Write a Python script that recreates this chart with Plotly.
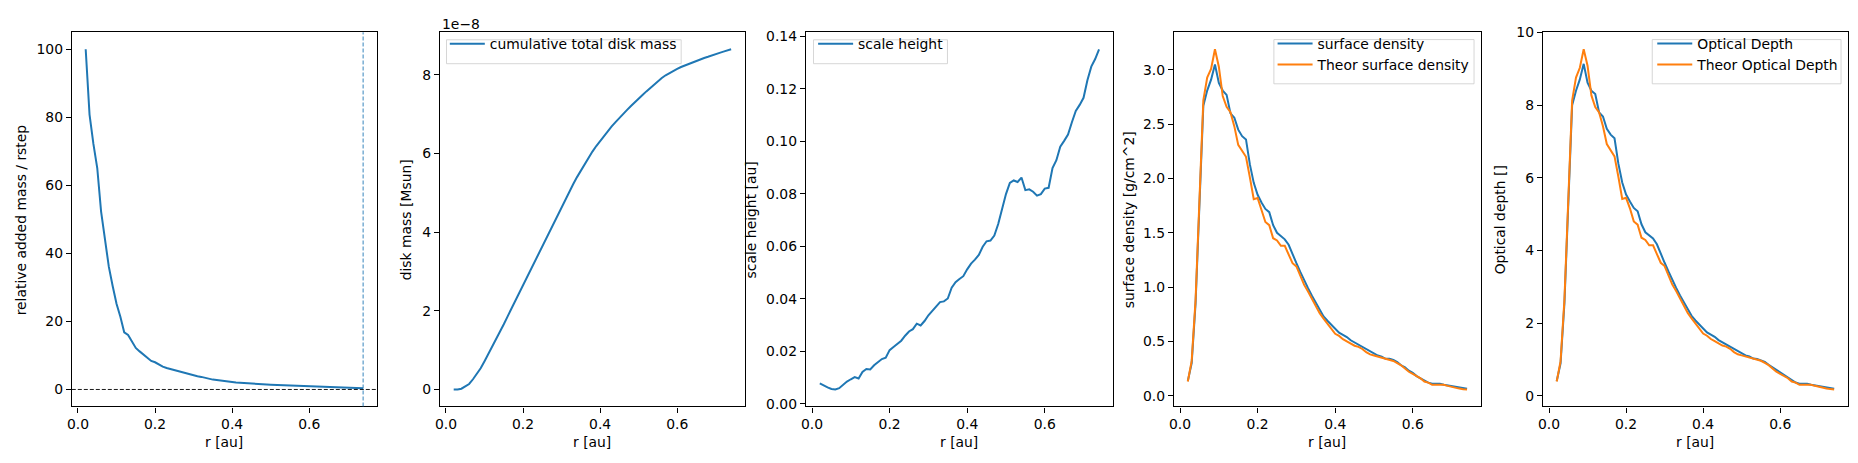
import plotly.graph_objects as go

W, H = 1858, 463

r_au = [0.02, 0.03, 0.04, 0.05, 0.06, 0.07, 0.08, 0.09, 0.10, 0.11, 0.12, 0.13, 0.14, 0.15, 0.16,
        0.17, 0.18, 0.19, 0.20, 0.21, 0.22, 0.23, 0.24, 0.25, 0.26, 0.27, 0.28, 0.29, 0.30, 0.31,
        0.32, 0.33, 0.34, 0.35, 0.36, 0.37, 0.38, 0.39, 0.40, 0.41, 0.42, 0.43, 0.44, 0.45, 0.46,
        0.47, 0.48, 0.49, 0.50, 0.51, 0.52, 0.53, 0.54, 0.55, 0.56, 0.57, 0.58, 0.59, 0.60, 0.61,
        0.62, 0.63, 0.64, 0.65, 0.66, 0.67, 0.68, 0.69, 0.70, 0.71, 0.72, 0.73, 0.74]

rel_added_mass = [100.0, 80.8, 72.2, 65.1, 52.3, 43.7, 36.1, 30.4, 25.2, 21.4, 16.8, 16.0, 14.2, 12.2, 11.2,
                  10.2, 9.2, 8.4, 8.0, 7.3, 6.7, 6.3, 6.0, 5.7, 5.3, 5.0, 4.6, 4.3, 4.1, 3.9,
                  3.7, 3.4, 3.1, 2.9, 2.8, 2.7, 2.5, 2.3, 2.2, 2.05, 1.95, 1.85, 1.75, 1.7, 1.6,
                  1.55, 1.5, 1.45, 1.4, 1.35, 1.3, 1.25, 1.2, 1.15, 1.1, 1.0, 0.95, 0.9, 0.85, 0.8,
                  0.75, 0.7, 0.65, 0.6, 0.58, 0.55, 0.52, 0.48, 0.45, 0.42, 0.4, 0.37, 0.35]

# cumulative total disk mass in units of 1e-8 Msun
disk_mass_1e8 = [0.0, 0.0, 0.02, 0.07, 0.14, 0.26, 0.39, 0.54, 0.72, 0.90, 1.08, 1.27, 1.46, 1.66, 1.86,
                 2.06, 2.26, 2.46, 2.66, 2.86, 3.06, 3.26, 3.46, 3.66, 3.86, 4.06, 4.26, 4.46, 4.66, 4.85,
                 5.04, 5.22, 5.40, 5.57, 5.74, 5.90, 6.05, 6.19, 6.32, 6.45, 6.57, 6.69, 6.80, 6.91, 7.01,
                 7.11, 7.21, 7.31, 7.40, 7.49, 7.58, 7.67, 7.76, 7.84, 7.92, 7.99, 8.05, 8.10, 8.15, 8.20,
                 8.24, 8.28, 8.32, 8.36, 8.40, 8.43, 8.46, 8.50, 8.53, 8.56, 8.59, 8.62, 8.65]

scale_height = [0.0077, 0.0068, 0.0062, 0.0056, 0.0054, 0.0059, 0.0072, 0.0084, 0.0093, 0.0101, 0.0096, 0.0121,
                0.0132, 0.0130, 0.0146, 0.0157, 0.0170, 0.0175, 0.0204, 0.0216, 0.0228, 0.0240, 0.0259, 0.0275,
                0.0284, 0.0305, 0.0298, 0.0315, 0.0337, 0.0354, 0.0372, 0.0387, 0.0390, 0.0401, 0.0442, 0.0463,
                0.0475, 0.0486, 0.0512, 0.0534, 0.0549, 0.0567, 0.0598, 0.0619, 0.0622, 0.0641, 0.0685, 0.0746,
                0.0799, 0.0842, 0.0851, 0.0845, 0.0862, 0.0814, 0.0817, 0.0808, 0.0793, 0.0799, 0.0820, 0.0823,
                0.0898, 0.0928, 0.0980, 0.1002, 0.1026, 0.1073, 0.1116, 0.1139, 0.1166, 0.1233, 0.1285, 0.1314,
                0.1351]

surface_density = [0.134, 0.30, 0.85, 1.75, 2.67, 2.81, 2.91, 3.05, 2.88, 2.81, 2.77, 2.60, 2.56, 2.45, 2.39,
                   2.36, 2.13, 1.96, 1.85, 1.78, 1.72, 1.69, 1.57, 1.50, 1.47, 1.44, 1.39, 1.30, 1.22, 1.14,
                   1.06, 0.99, 0.92, 0.86, 0.80, 0.73, 0.69, 0.65, 0.61, 0.58, 0.56, 0.54, 0.51, 0.49, 0.47,
                   0.45, 0.43, 0.41, 0.39, 0.37, 0.36, 0.34, 0.34, 0.33, 0.31, 0.28, 0.26, 0.23, 0.21, 0.18,
                   0.16, 0.14, 0.12, 0.11, 0.11, 0.11, 0.10, 0.095, 0.087, 0.081, 0.075, 0.069, 0.063]

theor_surface_density = [0.13, 0.32, 0.88, 1.80, 2.72, 2.93, 3.01, 3.19, 3.03, 2.76, 2.66, 2.61, 2.48, 2.31, 2.26,
                         2.20, 2.01, 1.81, 1.82, 1.72, 1.60, 1.57, 1.45, 1.43, 1.38, 1.38, 1.30, 1.22, 1.19, 1.10,
                         1.02, 0.96, 0.89, 0.83, 0.76, 0.71, 0.66, 0.61, 0.57, 0.55, 0.52, 0.50, 0.48, 0.46, 0.45,
                         0.43, 0.40, 0.38, 0.37, 0.36, 0.35, 0.34, 0.33, 0.32, 0.30, 0.28, 0.25, 0.22, 0.20, 0.18,
                         0.16, 0.13, 0.12, 0.10, 0.10, 0.10, 0.10, 0.09, 0.08, 0.07, 0.065, 0.06, 0.057]

optical_depth = [0.40, 0.89, 2.55, 5.25, 8.00, 8.40, 8.71, 9.14, 8.62, 8.40, 8.31, 7.80, 7.69, 7.35, 7.19,
                 7.09, 6.39, 5.87, 5.54, 5.35, 5.17, 5.08, 4.72, 4.50, 4.41, 4.33, 4.17, 3.90, 3.66, 3.42,
                 3.18, 2.97, 2.76, 2.58, 2.40, 2.20, 2.07, 1.95, 1.83, 1.74, 1.68, 1.62, 1.53, 1.47, 1.41,
                 1.35, 1.29, 1.23, 1.17, 1.11, 1.08, 1.02, 1.01, 0.98, 0.93, 0.85, 0.78, 0.70, 0.62, 0.55,
                 0.48, 0.42, 0.36, 0.33, 0.33, 0.33, 0.30, 0.28, 0.26, 0.24, 0.22, 0.21, 0.19]

theor_optical_depth = [0.39, 0.95, 2.64, 5.40, 8.13, 8.76, 9.03, 9.54, 9.09, 8.27, 7.95, 7.80, 7.42, 6.93, 6.77,
                       6.59, 6.03, 5.42, 5.45, 5.16, 4.80, 4.71, 4.35, 4.29, 4.14, 4.14, 3.90, 3.66, 3.57, 3.30,
                       3.06, 2.88, 2.67, 2.49, 2.28, 2.13, 1.98, 1.83, 1.71, 1.65, 1.56, 1.50, 1.44, 1.38, 1.35,
                       1.29, 1.20, 1.14, 1.11, 1.08, 1.05, 1.02, 0.99, 0.96, 0.90, 0.84, 0.75, 0.66, 0.60, 0.54,
                       0.48, 0.39, 0.36, 0.30, 0.30, 0.30, 0.30, 0.27, 0.24, 0.21, 0.195, 0.18, 0.17]

BLUE = "#1f77b4"
ORANGE = "#ff7f0e"
FONT = "DejaVu Sans"
FS = 13.9

# axes pixel boxes (left, right) ; common top/bottom
boxes = [(67, 373), (436, 742), (803, 1111), (1172, 1480), (1542, 1848)]
TOP, BOT = 25, 410


def pad_range(vals):
    lo, hi = min(vals), max(vals)
    m = 0.05 * (hi - lo)
    return [lo - m, hi + m]


fig = go.Figure()

xr = pad_range(r_au)

# legend: (item origin x, frame x0, frame x1, frame y0, frame y1) in pixels
panels = [
    dict(series=[(rel_added_mass, BLUE, None)], yr=pad_range(rel_added_mass + [0.0]), dtick=20, fmt="d",
         ytitle="relative added mass / rstep", ytx=16, legend=None),
    dict(series=[(disk_mass_1e8, BLUE, "cumulative total disk mass")], yr=pad_range(disk_mass_1e8), dtick=2,
         fmt="d", ytitle="disk mass [Msun]", ytx=402, legend=(441.0, 442.7, 678.0, 32.7, 57.3)),
    dict(series=[(scale_height, BLUE, "scale height")], yr=pad_range(scale_height), dtick=0.02, fmt=".2f",
         ytitle="scale height [au]", ytx=748, legend=(810.3, 810.7, 945.0, 32.7, 57.3)),
    dict(series=[(surface_density, BLUE, "surface density"),
                 (theor_surface_density, ORANGE, "Theor surface density")],
         yr=pad_range(surface_density + theor_surface_density), dtick=0.5, fmt=".1f",
         ytitle="surface density [g/cm^2]", ytx=1127, legend=(1271.0, 1272.3, 1473.0, 32.5, 78.0)),
    dict(series=[(optical_depth, BLUE, "Optical Depth"),
                 (theor_optical_depth, ORANGE, "Theor Optical Depth")],
         yr=pad_range(optical_depth + theor_optical_depth), dtick=2, fmt="d",
         ytitle="Optical depth []", ytx=1499, legend=(1651.7, 1651.7, 1841.0, 32.5, 78.0)),
]

annotations = []
shapes = []
layout_extra = {}
for i, p in enumerate(panels):
    n = i + 1
    xa = "xaxis" if n == 1 else f"xaxis{n}"
    ya = "yaxis" if n == 1 else f"yaxis{n}"
    xref = "x" if n == 1 else f"x{n}"
    yref = "y" if n == 1 else f"y{n}"
    legname = "legend" if n == 1 else f"legend{n}"
    l, rgt = boxes[i]
    common = dict(showline=True, linecolor="black", linewidth=1.1, mirror=True, ticks="outside",
                  ticklen=5, tickwidth=1.1, tickcolor="black", showgrid=False, zeroline=False,
                  tickfont=dict(family=FONT, size=FS, color="black"))
    layout_extra[xa] = dict(domain=[l / W, rgt / W], anchor=yref, range=xr, tick0=0, dtick=0.2,
                            tickformat=".1f", **common)
    layout_extra[ya] = dict(domain=[1 - BOT / H, 1 - TOP / H], anchor=xref, range=p["yr"], tick0=0,
                            dtick=p["dtick"], tickformat=p["fmt"], **common)
    for vals, col, name in p["series"]:
        fig.add_trace(go.Scatter(x=r_au, y=vals, mode="lines", line=dict(color=col, width=2),
                                 name=name or "", showlegend=name is not None,
                                 xaxis=xref, yaxis=yref, legend=legname))
    if p["legend"] is not None:
        ox, fx0, fx1, fy0, fy1 = p["legend"]
        layout_extra[legname] = dict(x=ox / W, y=1 - (fy0 - 12.0) / H, xanchor="left", yanchor="top",
                                     bgcolor="rgba(0,0,0,0)", borderwidth=0, itemwidth=35,
                                     font=dict(family=FONT, size=FS, color="black"),
                                     tracegroupgap=0)
        shapes.append(dict(type="rect", xref="paper", yref="paper", layer="above",
                           x0=fx0 / W, x1=fx1 / W, y0=1 - fy1 / H, y1=1 - fy0 / H,
                           fillcolor="rgba(255,255,255,0.8)",
                           line=dict(color="rgba(204,204,204,0.8)", width=1)))
    # x title
    annotations.append(dict(text="r [au]", x=(l + rgt) / 2 / W, y=1 - 447 / H, xref="paper", yref="paper",
                            xanchor="center", yanchor="middle", showarrow=False,
                            font=dict(family=FONT, size=FS, color="black")))
    # y title
    annotations.append(dict(text=p["ytitle"], x=p["ytx"] / W, y=1 - ((TOP + BOT) / 2) / H, xref="paper",
                            yref="paper", xanchor="center", yanchor="middle", textangle=-90,
                            showarrow=False, font=dict(family=FONT, size=FS, color="black")))

# offset text for panel 2
annotations.append(dict(text="1e\u22128", x=435.7 / W, y=1 - 16 / H, xref="paper", yref="paper",
                        xanchor="left", yanchor="middle", showarrow=False,
                        font=dict(family=FONT, size=FS, color="black")))

shapes += [
    dict(type="line", xref="x domain", yref="y", x0=0, x1=1, y0=0, y1=0,
         line=dict(color="black", width=0.9, dash="4px,2px")),
    dict(type="line", xref="x", yref="y domain", x0=r_au[-1], x1=r_au[-1], y0=0, y1=1,
         line=dict(color=BLUE, width=0.9, dash="4px,2px")),
]

fig.update_layout(width=W, height=H, margin=dict(l=0, r=0, t=0, b=0), plot_bgcolor="white",
                  paper_bgcolor="white", annotations=annotations, shapes=shapes,
                  font=dict(family=FONT, size=FS, color="black"), **layout_extra)

fig.write_html("out.html")
